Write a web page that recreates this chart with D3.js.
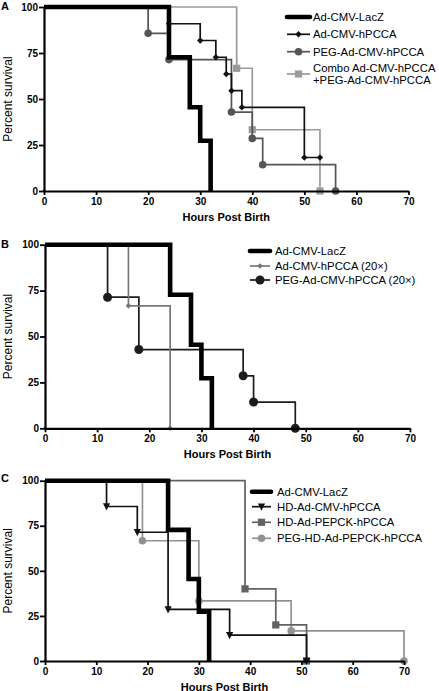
<!DOCTYPE html>
<html><head><meta charset="utf-8">
<script src="https://cdn.jsdelivr.net/npm/d3@7"></script>
<style>html,body{margin:0;padding:0;background:#fff}svg{display:block}</style>
</head><body>
<script>
// ---- data ----
const xTicks = [0,10,20,30,40,50,60,70];
const yTicks = [0,25,50,75,100];
const xTitle = "Hours Post Birth";
const yTitle = "Percent survival";

// Panel A
const aLacZTimes  = [0,24,28,30,32];
const aLacZSurv   = [100,72.7,45.5,27.3,0];
const aCmvTimes   = [0,24,30,33,35,36,38,50,53];
const aCmvSurv    = [100,90.9,81.8,72.7,63.6,54.5,45.5,18.2,18.2];
const aPegTimes   = [0,20,24,36,40,42,56];
const aPegSurv    = [100,85.7,71.4,42.9,28.6,14.3,0];
const aComboTimes = [0,37,40,53];
const aComboSurv  = [100,66.7,33.3,0];
const aNames = ["Ad-CMV-LacZ","Ad-CMV-hPCCA","PEG-Ad-CMV-hPCCA",["Combo Ad-CMV-hPCCA","+PEG-Ad-CMV-hPCCA"]];

// Panel B
const bLacZTimes  = [0,24,28,30,32];
const bLacZSurv   = [100,72.7,45.5,27.3,0];
const bCmvTimes   = [0,16,24];
const bCmvSurv    = [100,66.7,0];
const bPegTimes   = [0,12,18,38,40,48];
const bPegSurv    = [100,71.4,42.9,28.6,14.3,0];
const bNames = ["Ad-CMV-LacZ","Ad-CMV-hPCCA (20\u00d7)","PEG-Ad-CMV-hPCCA (20\u00d7)"];

// Panel C
const cLacZTimes   = [0,24,28,30,32];
const cLacZSurv    = [100,72.7,45.5,27.3,0];
const cHdCmvTimes  = [0,12,18,24,36,51];
const cHdCmvSurv   = [100,85.7,71.4,28.6,14.3,0];
const cPepckTimes  = [0,39,45,51];
const cPepckSurv   = [100,40,20,0];
const cPegHdTimes  = [0,19,30,48,70];
const cPegHdSurv   = [100,66.7,33.3,16.7,0];
const cNames = ["Ad-CMV-LacZ","HD-Ad-CMV-hPCCA","HD-Ad-PEPCK-hPCCA","PEG-HD-Ad-PEPCK-hPCCA"];

// ---- layout / style ----
const FONT = "'Liberation Sans', Arial, Helvetica, sans-serif";
const W = 439, H = 691;
const svg = d3.select("body").append("svg").attr("width", W).attr("height", H)
  .style("font-family", FONT);

function mk(times, surv, name, style){ return {times, surv, name, ...style}; }

const panels = [
  { letter:"A", letterY:9.5, x0:44, x1:408.5, yTop:7, yBot:191,
    legend:{x1:287, x2:310, tx:313, rows:[17,34.3,51.7,74]},
    series:[
      mk(aLacZTimes,aLacZSurv,aNames[0],{color:"#000",w:4.6,marker:"none"}),
      mk(aCmvTimes,aCmvSurv,aNames[1],{color:"#111",w:1.7,marker:"diamond",size:3.2}),
      mk(aPegTimes,aPegSurv,aNames[2],{color:"#555",w:1.7,marker:"circle",size:3.8}),
      mk(aComboTimes,aComboSurv,aNames[3],{color:"#9a9a9a",w:1.7,marker:"square",size:3.6})
    ]},
  { letter:"B", letterY:247.7, x0:45, x1:410, yTop:244.7, yBot:428.3,
    legend:{x1:250, x2:270, tx:275, rows:[251,266,280]},
    series:[
      mk(bLacZTimes,bLacZSurv,bNames[0],{color:"#000",w:4.6,marker:"none"}),
      mk(bCmvTimes,bCmvSurv,bNames[1],{color:"#777",w:1.7,marker:"diamond",size:2.8}),
      mk(bPegTimes,bPegSurv,bNames[2],{color:"#1c1c1c",w:1.7,marker:"circle",size:4.5})
    ]},
  { letter:"C", letterY:482.3, x0:45, x1:404, yTop:480.7, yBot:661,
    legend:{x1:252, x2:271, tx:277, rows:[491.7,506.7,522.3,538.3]},
    series:[
      mk(cLacZTimes,cLacZSurv,cNames[0],{color:"#000",w:4.6,marker:"none"}),
      mk(cHdCmvTimes,cHdCmvSurv,cNames[1],{color:"#111",w:1.7,marker:"triangle",size:3.6}),
      mk(cPepckTimes,cPepckSurv,cNames[2],{color:"#626262",w:1.7,marker:"square",size:3.6}),
      mk(cPegHdTimes,cPegHdSurv,cNames[3],{color:"#929292",w:1.7,marker:"circle",size:3.8})
    ]}
];

function drawMarker(g, type, cx, cy, s, color){
  if(type==="circle"){
    g.append("circle").attr("cx",cx).attr("cy",cy).attr("r",s).attr("fill",color);
  } else if(type==="square"){
    g.append("rect").attr("x",cx-s).attr("y",cy-s).attr("width",2*s).attr("height",2*s).attr("fill",color);
  } else if(type==="diamond"){
    g.append("path").attr("d",`M${cx},${cy-s}L${cx+s},${cy}L${cx},${cy+s}L${cx-s},${cy}Z`).attr("fill",color);
  } else if(type==="triangle"){
    g.append("path").attr("d",`M${cx-s},${cy-s*0.9}L${cx+s},${cy-s*0.9}L${cx},${cy+s*1.1}Z`).attr("fill",color);
  }
}

panels.forEach(p => {
  const x = d3.scaleLinear().domain([0,70]).range([p.x0,p.x1]);
  const y = d3.scaleLinear().domain([0,100]).range([p.yBot,p.yTop]);
  const g = svg.append("g");

  const line = d3.line().x(d=>x(d[0])).y(d=>y(d[1])).curve(d3.curveStepAfter);
  p.series.slice().reverse().forEach(s => {
    const pts = s.times.map((t,i)=>[t,s.surv[i]]);
    g.append("path").attr("d",line(pts)).attr("fill","none")
      .attr("stroke",s.color).attr("stroke-width",s.w)
      .attr("stroke-linejoin","miter").attr("stroke-linecap","butt");
    if(s.marker!=="none"){
      pts.slice(1).forEach(d => drawMarker(g, s.marker, x(d[0]), y(d[1]), s.size, s.color));
    }
  });

  const xAx = g.append("g").attr("transform",`translate(0,${p.yBot})`)
    .call(d3.axisBottom(x).tickValues(xTicks).tickSize(4).tickPadding(3).tickSizeOuter(0));
  const yAx = g.append("g").attr("transform",`translate(${p.x0},0)`)
    .call(d3.axisLeft(y).tickValues(yTicks).tickSize(5).tickPadding(1).tickSizeOuter(0));
  [xAx,yAx].forEach(a=>{
    a.select(".domain").attr("stroke","#000").attr("stroke-width",2.2);
    a.selectAll(".tick line").attr("stroke","#000").attr("stroke-width",1.8);
    a.selectAll(".tick text").attr("fill","#000").style("font-family",FONT)
      .style("font-size","10px").style("font-weight","bold");
  });
  g.append("line").attr("x1",p.x0-1.1).attr("x2",p.x0+1).attr("y1",p.yBot).attr("y2",p.yBot)
    .attr("stroke","#000").attr("stroke-width",2.2);

  g.append("text").attr("x",(p.x0+p.x1)/2).attr("y",p.yBot+29.5).attr("text-anchor","middle")
    .style("font-size","11px").style("font-weight","bold").text(xTitle);
  g.append("text").attr("transform",`translate(12,${(p.yTop+p.yBot)/2}) rotate(-90)`)
    .attr("text-anchor","middle").style("font-size","12px").text(yTitle);
  g.append("text").attr("x",1).attr("y",p.letterY).style("font-size","11px")
    .style("font-weight","bold").text(p.letter);

  p.series.forEach((s,i) => {
    const cy = p.legend.rows[i];
    g.append("line").attr("x1",p.legend.x1).attr("x2",p.legend.x2).attr("y1",cy).attr("y2",cy)
      .attr("stroke",s.color).attr("stroke-width",s.marker==="none"?4.6:1.7)
      .attr("stroke-linecap",s.marker==="none"?"round":"butt");
    if(s.marker!=="none") drawMarker(g, s.marker, (p.legend.x1+p.legend.x2)/2, cy, s.size, s.color);
    const names = Array.isArray(s.name) ? s.name : [s.name];
    const t = g.append("text").attr("x",p.legend.tx).style("font-size","11.3px").attr("fill","#000");
    names.forEach((n,k)=>{
      t.append("tspan").attr("x",p.legend.tx)
       .attr("y", cy + 4 + (k - (names.length-1)/2)*12.6).text(n);
    });
  });
});
</script>
</body></html>
